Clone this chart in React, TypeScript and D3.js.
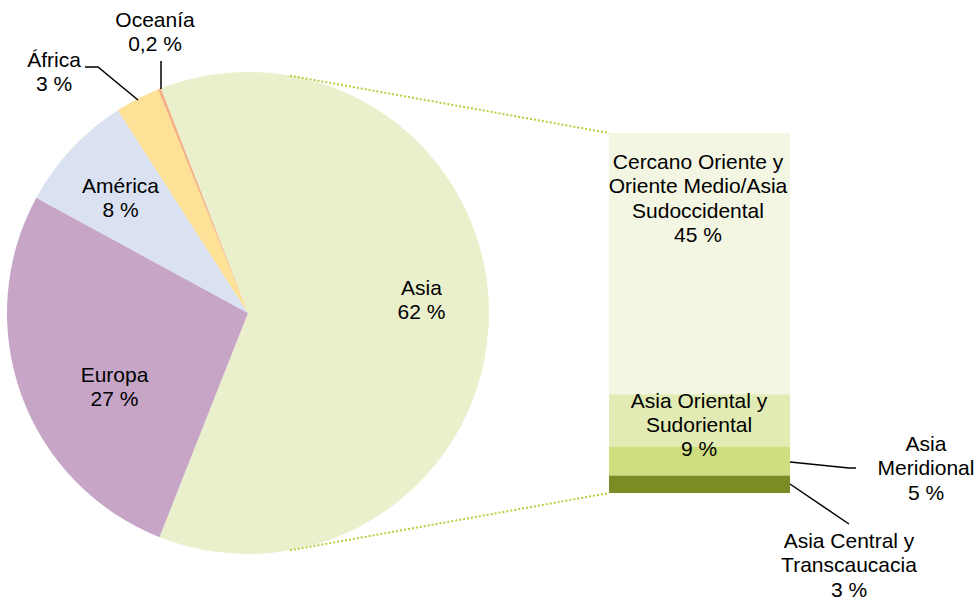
import * as d3 from 'd3';

// pie (continents)
const regions = ['Asia', 'Europa', 'América', 'África', 'Oceanía'];
const regionShares = [62, 27, 8, 3, 0.2];
const regionLabels = [['Asia', '62 %'], ['Europa', '27 %'], ['América', '8 %'], ['África', '3 %'], ['Oceanía', '0,2 %']];
const regionColors = ['#EAF0CC', '#C6A5C6', '#DAE2F2', '#FDE196', '#F4B183'];

// bar (Asia breakdown, top to bottom)
const asiaParts = ['Cercano Oriente', 'Asia Oriental', 'Asia Meridional', 'Asia Central'];
const asiaShares = [45, 9, 5, 3];
const asiaLabels = [
  ['Cercano Oriente y', 'Oriente Medio/Asia', 'Sudoccidental', '45 %'],
  ['Asia Oriental y', 'Sudoriental', '9 %'],
  ['Asia', 'Meridional', '5 %'],
  ['Asia Central y', 'Transcaucacia', '3 %'],
];
const asiaColors = ['#F3F6E3', '#E2EBB4', '#CFDE7E', '#7A8C24'];

const W = 978;
const H = 601;
const cx = 248;
const cy = 313;
const R = 241;
const rad = (deg: number) => (deg * Math.PI) / 180;
const LH = 24.3;
const FONT = 'Liberation Sans, Arial, sans-serif';

function Label({ x, y, lines }: { x: number; y: number; lines: string[] }) {
  // y = baseline of first line
  return (
    <text x={x} y={y} textAnchor="middle" fontSize={21} fill="#000" fontFamily={FONT}>
      {lines.map((l, i) => (
        <tspan key={i} x={x} y={y + i * LH}>{l}</tspan>
      ))}
    </text>
  );
}

export default function App() {
  const start = rad(-21.2);
  const pie = d3.pie<number>().sort(null).startAngle(start).endAngle(start + 2 * Math.PI);
  const arcs = pie(regionShares);
  const arc = d3.arc<d3.PieArcDatum<number>>().innerRadius(0).outerRadius(R);

  // bar scale
  const barX = d3.scaleBand().domain(['Asia']).range([609, 790]).padding(0);
  const barY = d3.scaleLinear().domain([0, d3.sum(asiaShares)]).range([493, 133]);
  const stacked: { top: number; bottom: number }[] = [];
  let acc = d3.sum(asiaShares);
  asiaShares.forEach((v) => {
    stacked.push({ top: acc, bottom: acc - v });
    acc -= v;
  });

  const bx0 = barX('Asia') as number;
  const bw = barX.bandwidth();

  const pt = (deg: number) => [cx + R * Math.sin(rad(deg)), cy - R * Math.cos(rad(deg))];
  const [tx, ty] = pt(10);
  const [btx, bty] = pt(170);

  // label positions (first-line baselines)
  const pieLabelPos: [number, number][] = [
    [421.5, 295],
    [114.5, 382],
    [120.5, 193],
    [54, 67],
    [155, 26.5],
  ];
  const barLabelPos: [number, number][] = [
    [698, 169],
    [699, 407.5],
    [926, 451],
    [849, 548],
  ];

  return (
    <svg width={W} height={H} style={{ position: 'absolute', left: 0, top: 0 }}>
      <rect width={W} height={H} fill="#fff" />
      <g transform={`translate(${cx},${cy})`}>
        {arcs.map((a, i) => (
          <path key={regions[i]} d={arc(a) || ''} fill={regionColors[i]} />
        ))}
      </g>
      {/* connectors */}
      <line x1={tx} y1={ty} x2={bx0} y2={barY(d3.sum(asiaShares))} stroke="#B5CF3D" strokeWidth={2} strokeDasharray="2,2" />
      <line x1={btx} y1={bty} x2={bx0} y2={barY(0)} stroke="#B5CF3D" strokeWidth={2} strokeDasharray="2,2" />
      {asiaParts.map((p, i) => (
        <rect
          key={p}
          x={bx0}
          width={bw}
          y={barY(stacked[i].top)}
          height={barY(stacked[i].bottom) - barY(stacked[i].top)}
          fill={asiaColors[i]}
        />
      ))}
      {/* leader lines */}
      <g stroke="#000" strokeWidth={1.5} fill="none">
        <polyline points="161,61 161,89" />
        <polyline points="85,67 98,67 138,100" />
        <polyline points="790,462 849,468 856,468" />
        <polyline points="790,484 849,524" />
      </g>
      {regionLabels.map((l, i) => (
        <Label key={regions[i]} x={pieLabelPos[i][0]} y={pieLabelPos[i][1]} lines={l} />
      ))}
      {asiaLabels.map((l, i) => (
        <Label key={asiaParts[i]} x={barLabelPos[i][0]} y={barLabelPos[i][1]} lines={l} />
      ))}
    </svg>
  );
}
